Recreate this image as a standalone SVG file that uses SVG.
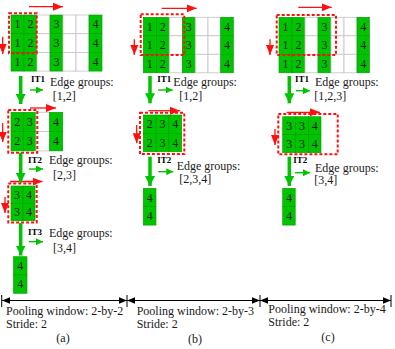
<svg xmlns="http://www.w3.org/2000/svg" width="395" height="349" viewBox="0 0 395 349">
<style>
.g{fill:#00c400;stroke:#009a00;stroke-width:0.6}
.w{fill:#fff;stroke:#c4c4c4;stroke-width:0.8}
.n{font-family:"Liberation Serif",serif;font-size:12px;text-anchor:middle;fill:#1a1a1a}
.t{font-family:"Liberation Serif",serif;font-size:12px;fill:#1a1a1a}
.it{font-family:"Liberation Serif",serif;font-size:9px;font-weight:bold;fill:#000}
.dash{fill:none;stroke:#ff1010;stroke-width:2;stroke-dasharray:3 2}
.red{stroke:#ff1010;stroke-width:1.3;fill:none;marker-end:url(#ar)}
.big{stroke:#00c400;stroke-width:3.5;fill:none;marker-end:url(#ag)}
.sm{stroke:#00c400;stroke-width:1.4;fill:none;marker-end:url(#as)}
.dim{stroke:#000;stroke-width:1;fill:none;marker-start:url(#ak);marker-end:url(#ak)}
.tick{stroke:#000;stroke-width:1}
</style>
<defs>
<marker id="ar" markerUnits="userSpaceOnUse" markerWidth="10" markerHeight="10" viewBox="0 0 10 10" refX="10" refY="5" orient="auto"><path d="M0,1 L10,5 L0,9 Z" fill="#ff1010"/></marker>
<marker id="ag" markerUnits="userSpaceOnUse" markerWidth="10" markerHeight="10" viewBox="0 0 10 10" refX="10" refY="5" orient="auto"><path d="M0,0 L10,5 L0,10 Z" fill="#00c400"/></marker>
<marker id="as" markerUnits="userSpaceOnUse" markerWidth="7" markerHeight="7" viewBox="0 0 10 10" refX="10" refY="5" orient="auto"><path d="M0,0 L10,5 L0,10 Z" fill="#00c400"/></marker>
<marker id="ak" markerUnits="userSpaceOnUse" markerWidth="8" markerHeight="8" viewBox="0 0 10 10" refX="10" refY="5" orient="auto-start-reverse"><path d="M0,1 L10,5 L0,9 Z" fill="#000"/></marker>
</defs>

<!-- (a) top grid -->
<g id="a-grid1">
<rect class="g" x="11" y="15" width="13" height="18.7"/><rect class="g" x="24" y="15" width="13" height="18.7"/><rect class="w" x="37" y="15" width="13" height="18.7"/><rect class="g" x="50" y="15" width="13" height="18.7"/><rect class="w" x="63" y="15" width="13" height="18.7"/><rect class="w" x="76" y="15" width="13" height="18.7"/><rect class="g" x="89" y="15" width="13" height="18.7"/>
<rect class="g" x="11" y="33.7" width="13" height="18.7"/><rect class="g" x="24" y="33.7" width="13" height="18.7"/><rect class="w" x="37" y="33.7" width="13" height="18.7"/><rect class="g" x="50" y="33.7" width="13" height="18.7"/><rect class="w" x="63" y="33.7" width="13" height="18.7"/><rect class="w" x="76" y="33.7" width="13" height="18.7"/><rect class="g" x="89" y="33.7" width="13" height="18.7"/>
<rect class="g" x="11" y="52.4" width="13" height="18.7"/><rect class="g" x="24" y="52.4" width="13" height="18.7"/><rect class="w" x="37" y="52.4" width="13" height="18.7"/><rect class="g" x="50" y="52.4" width="13" height="18.7"/><rect class="w" x="63" y="52.4" width="13" height="18.7"/><rect class="w" x="76" y="52.4" width="13" height="18.7"/><rect class="g" x="89" y="52.4" width="13" height="18.7"/>
<text class="n" x="17.5" y="28.4">1</text><text class="n" x="30.5" y="28.4">2</text><text class="n" x="56.5" y="28.4">3</text><text class="n" x="95.5" y="28.4">4</text>
<text class="n" x="17.5" y="47.1">1</text><text class="n" x="30.5" y="47.1">2</text><text class="n" x="56.5" y="47.1">3</text><text class="n" x="95.5" y="47.1">4</text>
<text class="n" x="17.5" y="65.8">1</text><text class="n" x="30.5" y="65.8">2</text><text class="n" x="56.5" y="65.8">3</text><text class="n" x="95.5" y="65.8">4</text>
<rect class="dash" x="9" y="13.3" width="27.7" height="40"/>
</g>

<g id="a-grid2">
<rect class="g" x="11" y="112.3" width="12.5" height="19.3"/><rect class="g" x="23.5" y="112.3" width="12.5" height="19.3"/><rect class="w" x="36" y="112.3" width="13.5" height="19.3"/><rect class="g" x="49.5" y="112.3" width="13.2" height="19.3"/>
<rect class="g" x="11" y="131.6" width="12.5" height="19.3"/><rect class="g" x="23.5" y="131.6" width="12.5" height="19.3"/><rect class="w" x="36" y="131.6" width="13.5" height="19.3"/><rect class="g" x="49.5" y="131.6" width="13.2" height="19.3"/>
<text class="n" x="17.3" y="126">2</text><text class="n" x="29.8" y="126">3</text><text class="n" x="56.1" y="126">4</text>
<text class="n" x="17.3" y="145.3">2</text><text class="n" x="29.8" y="145.3">3</text><text class="n" x="56.1" y="145.3">4</text>
<rect class="dash" x="8.3" y="110" width="29" height="42.7"/>
</g>

<g id="a-grid3">
<rect class="g" x="11" y="186" width="12" height="17.4"/><rect class="g" x="23" y="186" width="12" height="17.4"/>
<rect class="g" x="11" y="203.4" width="12" height="17.4"/><rect class="g" x="23" y="203.4" width="12" height="17.4"/>
<text class="n" x="17" y="198.8">3</text><text class="n" x="29" y="198.8">4</text>
<text class="n" x="17" y="216.2">3</text><text class="n" x="29" y="216.2">4</text>
<rect class="dash" x="8.3" y="183.5" width="28.4" height="39"/>
</g>

<g id="a-grid4">
<rect class="g" x="13.5" y="256.7" width="13.5" height="18.3"/><rect class="g" x="13.5" y="275" width="13.5" height="18.3"/>
<text class="n" x="20.3" y="270">4</text><text class="n" x="20.3" y="288.3">4</text>
</g>

<!-- (b) -->
<g id="b-grid1">
<rect class="g" x="143.3" y="17.3" width="13" height="18.5"/><rect class="g" x="156.3" y="17.3" width="13" height="18.5"/><rect class="w" x="169.3" y="17.3" width="13" height="18.5"/><rect class="g" x="182.3" y="17.3" width="13" height="18.5"/><rect class="w" x="195.3" y="17.3" width="12.7" height="18.5"/><rect class="w" x="208" y="17.3" width="12.7" height="18.5"/><rect class="g" x="220.7" y="17.3" width="12.7" height="18.5"/>
<rect class="g" x="143.3" y="35.8" width="13" height="18.5"/><rect class="g" x="156.3" y="35.8" width="13" height="18.5"/><rect class="w" x="169.3" y="35.8" width="13" height="18.5"/><rect class="g" x="182.3" y="35.8" width="13" height="18.5"/><rect class="w" x="195.3" y="35.8" width="12.7" height="18.5"/><rect class="w" x="208" y="35.8" width="12.7" height="18.5"/><rect class="g" x="220.7" y="35.8" width="12.7" height="18.5"/>
<rect class="g" x="143.3" y="54.3" width="13" height="18.5"/><rect class="g" x="156.3" y="54.3" width="13" height="18.5"/><rect class="w" x="169.3" y="54.3" width="13" height="18.5"/><rect class="g" x="182.3" y="54.3" width="13" height="18.5"/><rect class="w" x="195.3" y="54.3" width="12.7" height="18.5"/><rect class="w" x="208" y="54.3" width="12.7" height="18.5"/><rect class="g" x="220.7" y="54.3" width="12.7" height="18.5"/>
<text class="n" x="149.8" y="30.6">1</text><text class="n" x="162.8" y="30.6">2</text><text class="n" x="188.8" y="30.6">3</text><text class="n" x="227" y="30.6">4</text>
<text class="n" x="149.8" y="49.1">1</text><text class="n" x="162.8" y="49.1">2</text><text class="n" x="188.8" y="49.1">3</text><text class="n" x="227" y="49.1">4</text>
<text class="n" x="149.8" y="67.6">1</text><text class="n" x="162.8" y="67.6">2</text><text class="n" x="188.8" y="67.6">3</text><text class="n" x="227" y="67.6">4</text>
<rect class="dash" x="140.7" y="14.3" width="43.6" height="40.7"/>
</g>

<g id="b-grid2">
<rect class="g" x="143.3" y="115" width="12.8" height="18.4"/><rect class="g" x="156.1" y="115" width="12.8" height="18.4"/><rect class="g" x="168.9" y="115" width="12.8" height="18.4"/>
<rect class="g" x="143.3" y="133.4" width="12.8" height="18.4"/><rect class="g" x="156.1" y="133.4" width="12.8" height="18.4"/><rect class="g" x="168.9" y="133.4" width="12.8" height="18.4"/>
<text class="n" x="149.7" y="128.2">2</text><text class="n" x="162.5" y="128.2">3</text><text class="n" x="175.3" y="128.2">4</text>
<text class="n" x="149.7" y="146.6">2</text><text class="n" x="162.5" y="146.6">3</text><text class="n" x="175.3" y="146.6">4</text>
<rect class="dash" x="140" y="112.7" width="44.3" height="41.3"/>
</g>

<g id="b-grid3">
<rect class="g" x="143.3" y="188.3" width="12.7" height="18.4"/><rect class="g" x="143.3" y="206.7" width="12.7" height="18.4"/>
<text class="n" x="149.7" y="201.5">4</text><text class="n" x="149.7" y="219.9">4</text>
</g>

<!-- (c) -->
<g id="c-grid1">
<rect class="g" x="279" y="17.3" width="13" height="18.5"/><rect class="g" x="292" y="17.3" width="13" height="18.5"/><rect class="w" x="305" y="17.3" width="13" height="18.5"/><rect class="g" x="318" y="17.3" width="13" height="18.5"/><rect class="w" x="331" y="17.3" width="13" height="18.5"/><rect class="w" x="344" y="17.3" width="13" height="18.5"/><rect class="g" x="357" y="17.3" width="12.5" height="18.5"/>
<rect class="g" x="279" y="35.8" width="13" height="18.5"/><rect class="g" x="292" y="35.8" width="13" height="18.5"/><rect class="w" x="305" y="35.8" width="13" height="18.5"/><rect class="g" x="318" y="35.8" width="13" height="18.5"/><rect class="w" x="331" y="35.8" width="13" height="18.5"/><rect class="w" x="344" y="35.8" width="13" height="18.5"/><rect class="g" x="357" y="35.8" width="12.5" height="18.5"/>
<rect class="g" x="279" y="54.3" width="13" height="18.5"/><rect class="g" x="292" y="54.3" width="13" height="18.5"/><rect class="w" x="305" y="54.3" width="13" height="18.5"/><rect class="g" x="318" y="54.3" width="13" height="18.5"/><rect class="w" x="331" y="54.3" width="13" height="18.5"/><rect class="w" x="344" y="54.3" width="13" height="18.5"/><rect class="g" x="357" y="54.3" width="12.5" height="18.5"/>
<text class="n" x="285.5" y="30.6">1</text><text class="n" x="298.5" y="30.6">2</text><text class="n" x="324.5" y="30.6">3</text><text class="n" x="363.3" y="30.6">4</text>
<text class="n" x="285.5" y="49.1">1</text><text class="n" x="298.5" y="49.1">2</text><text class="n" x="324.5" y="49.1">3</text><text class="n" x="363.3" y="49.1">4</text>
<text class="n" x="285.5" y="67.6">1</text><text class="n" x="298.5" y="67.6">2</text><text class="n" x="324.5" y="67.6">3</text><text class="n" x="363.3" y="67.6">4</text>
<rect class="dash" x="276.7" y="15" width="59.3" height="40"/>
</g>

<g id="c-grid2">
<rect class="g" x="282.7" y="116.7" width="13" height="18"/><rect class="g" x="295.7" y="116.7" width="12.8" height="18"/><rect class="g" x="308.5" y="116.7" width="12.5" height="18"/>
<rect class="g" x="282.7" y="134.7" width="13" height="18"/><rect class="g" x="295.7" y="134.7" width="12.8" height="18"/><rect class="g" x="308.5" y="134.7" width="12.5" height="18"/>
<text class="n" x="289.2" y="129.7">3</text><text class="n" x="302.1" y="129.7">3</text><text class="n" x="314.8" y="129.7">4</text>
<text class="n" x="289.2" y="147.7">3</text><text class="n" x="302.1" y="147.7">3</text><text class="n" x="314.8" y="147.7">4</text>
<rect class="dash" x="278.3" y="114" width="59.4" height="40.3"/>
</g>

<g id="c-grid3">
<rect class="g" x="282.7" y="188.3" width="12.5" height="18.4"/><rect class="g" x="282.7" y="206.7" width="12.5" height="18.4"/>
<text class="n" x="289" y="201.5">4</text><text class="n" x="289" y="219.9">4</text>
</g>

<!-- connectors -->
<g id="connectors">
<line class="red" x1="29" y1="6.7" x2="63" y2="6.7"/>
<line class="red" x1="30" y1="108" x2="56" y2="108"/>
<line class="red" x1="10" y1="181.5" x2="42.5" y2="181.5"/>
<line class="red" x1="161.7" y1="8.3" x2="196.7" y2="8.3"/>
<line class="red" x1="148.3" y1="110.7" x2="180" y2="110.7"/>
<line class="red" x1="298.3" y1="7.3" x2="331.7" y2="7.3"/>
<line class="red" x1="286.7" y1="112.3" x2="320" y2="112.3"/>
<line class="red" x1="2.7" y1="36.7" x2="2.7" y2="54"/>
<line class="red" x1="2.7" y1="123" x2="2.7" y2="142"/>
<line class="red" x1="5" y1="197" x2="5" y2="213"/>
<line class="red" x1="134.3" y1="39.3" x2="134.3" y2="55"/>
<line class="red" x1="136.7" y1="125" x2="136.7" y2="143.3"/>
<line class="red" x1="270" y1="39.3" x2="270" y2="55"/>
<line class="red" x1="275" y1="129" x2="275" y2="145"/>

<line class="big" x1="20.7" y1="76" x2="20.7" y2="104"/>
<line class="big" x1="20.7" y1="152.7" x2="20.7" y2="182.7"/>
<line class="big" x1="20.7" y1="223" x2="20.7" y2="255.5"/>
<line class="big" x1="150" y1="76" x2="150" y2="103.3"/>
<line class="big" x1="150" y1="156.7" x2="150" y2="186"/>
<line class="big" x1="289.3" y1="76" x2="289.3" y2="103.3"/>
<line class="big" x1="289.3" y1="156.7" x2="289.3" y2="186"/>

<line class="sm" x1="30" y1="90" x2="43" y2="90"/>
<line class="sm" x1="29" y1="169" x2="43" y2="169"/>
<line class="sm" x1="29" y1="241.7" x2="43" y2="241.7"/>
<line class="sm" x1="158" y1="90" x2="172.7" y2="90"/>
<line class="sm" x1="158.3" y1="171.7" x2="173.3" y2="171.7"/>
<line class="sm" x1="296" y1="90.7" x2="310" y2="90.7"/>
<line class="sm" x1="295" y1="172.7" x2="310" y2="172.7"/>

<line class="dim" x1="2" y1="300.5" x2="127" y2="300.5"/>
<line class="dim" x1="127" y1="300.5" x2="260" y2="300.5"/>
<line class="dim" x1="260" y1="300.5" x2="391" y2="300.5"/>
<line class="tick" x1="1.7" y1="295" x2="1.7" y2="307"/>
<line class="tick" x1="127" y1="295" x2="127" y2="307"/>
<line class="tick" x1="260" y1="295" x2="260" y2="307"/>
<line class="tick" x1="391" y1="295" x2="391" y2="307"/>
</g>

<!-- labels -->
<g id="labels">
<text class="it" x="31" y="81.7">IT1</text>
<text class="t" x="50" y="86">Edge groups:</text><text class="t" x="52.7" y="100">[1,2]</text>
<text class="it" x="28" y="163">IT2</text>
<text class="t" x="49" y="164">Edge groups:</text><text class="t" x="53" y="179">[2,3]</text>
<text class="it" x="28" y="235">IT3</text>
<text class="t" x="49" y="236.7">Edge groups:</text><text class="t" x="53" y="251.7">[3,4]</text>

<text class="it" x="157.3" y="81.7">IT1</text>
<text class="t" x="173.3" y="85.7">Edge groups:</text><text class="t" x="179.3" y="100">[1,2]</text>
<text class="it" x="157.3" y="163.3">IT2</text>
<text class="t" x="176.7" y="170">Edge groups:</text><text class="t" x="179.3" y="183.3">[2,3,4]</text>

<text class="it" x="295" y="81.7">IT1</text>
<text class="t" x="315" y="86">Edge groups:</text><text class="t" x="314.3" y="100">[1,2,3]</text>
<text class="it" x="293.3" y="163.3">IT2</text>
<text class="t" x="315" y="171.7">Edge groups:</text><text class="t" x="314.3" y="184.3">[3,4]</text>

<text class="t" x="6" y="315">Pooling window: 2-by-2</text>
<text class="t" x="6" y="328.3">Stride: 2</text>
<text class="n" x="63" y="341.7">(a)</text>
<text class="t" x="136.7" y="315">Pooling window: 2-by-3</text>
<text class="t" x="136.7" y="327.7">Stride: 2</text>
<text class="n" x="195" y="342.5">(b)</text>
<text class="t" x="268.3" y="313.3">Pooling window: 2-by-4</text>
<text class="t" x="268.3" y="326">Stride: 2</text>
<text class="n" x="328" y="341">(c)</text>
</g>
</svg>
